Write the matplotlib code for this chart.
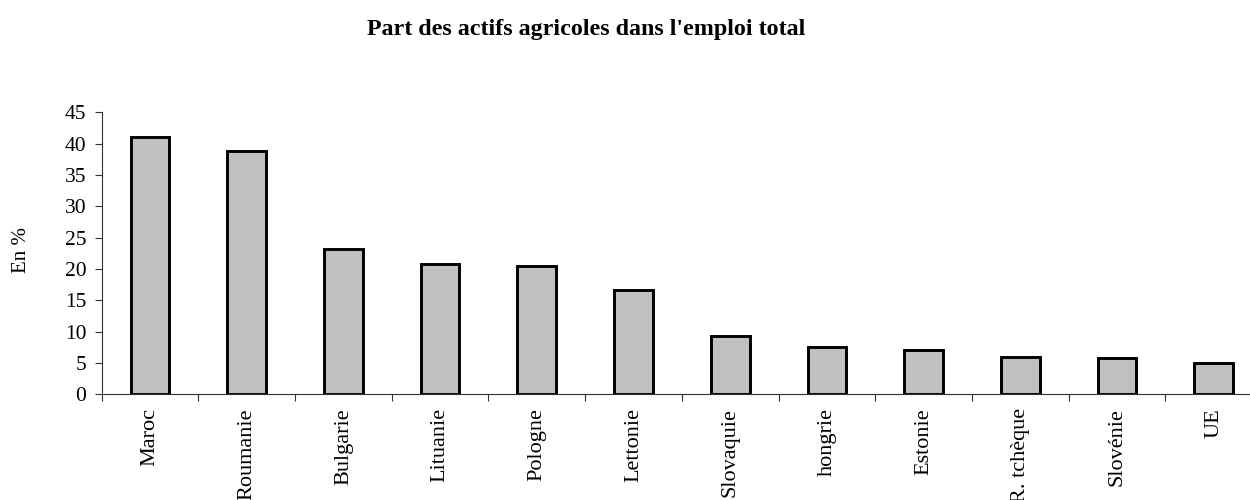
import matplotlib
matplotlib.use("Agg")
import matplotlib.pyplot as plt
import numpy as np

categories = ["Maroc", "Roumanie", "Bulgarie", "Lituanie", "Pologne", "Lettonie",
              "Slovaquie", "hongrie", "Estonie", "R. tchèque", "Slovénie", "UE"]
values = [41.0, 38.9, 23.2, 20.8, 20.5, 16.6, 9.3, 7.6, 7.1, 5.9, 5.8, 5.0]
yticks = [0, 5, 10, 15, 20, 25, 30, 35, 40, 45]
title = "Part des actifs agricoles dans l'emploi total"
ylabel = "En %"

plt.rcParams['font.family'] = ['Liberation Serif', 'DejaVu Serif']

fig = plt.figure(figsize=(12.5, 5), dpi=100)
left = 101.7 / 1250
right = 1262 / 1250
bottom = (500 - 394.3) / 500
top = (500 - 112.3) / 500
ax = fig.add_axes([left, bottom, right - left, top - bottom])

x = np.arange(len(categories))
ax.bar(x, values, width=0.4, color="#C0C0C0", edgecolor="black", linewidth=2.1, zorder=3)

ax.set_xlim(-0.5, len(categories) - 0.5)
ax.set_ylim(0, 45)
ax.set_yticks(yticks)
ax.set_yticklabels([str(t) for t in yticks], fontsize=15.5)

ax.set_xticks(x)
ax.set_xticklabels(categories, rotation=90, fontsize=16, va="top", ha="center")
ax.tick_params(axis="x", which="major", length=0, pad=10)
ax.set_xticks(np.arange(len(categories) + 1) - 0.5, minor=True)
ax.tick_params(axis="x", which="minor", length=5, width=0.8, color="#333333")
ax.tick_params(axis="y", which="major", length=5, width=0.8, color="#333333", pad=6)

for s in ["top", "right"]:
    ax.spines[s].set_visible(False)
for s in ["left", "bottom"]:
    ax.spines[s].set_linewidth(0.8)
    ax.spines[s].set_color("#333333")

ax.set_ylabel(ylabel, fontsize=15)
ax.yaxis.set_label_coords((31 - 101.7) / (1262 - 101.7), 0.512)

fig.text(586 / 1250, 1 - 30 / 500, title, ha="center", va="center",
         fontsize=17.3, fontweight="bold")

fig.savefig("out.png", dpi=100)
